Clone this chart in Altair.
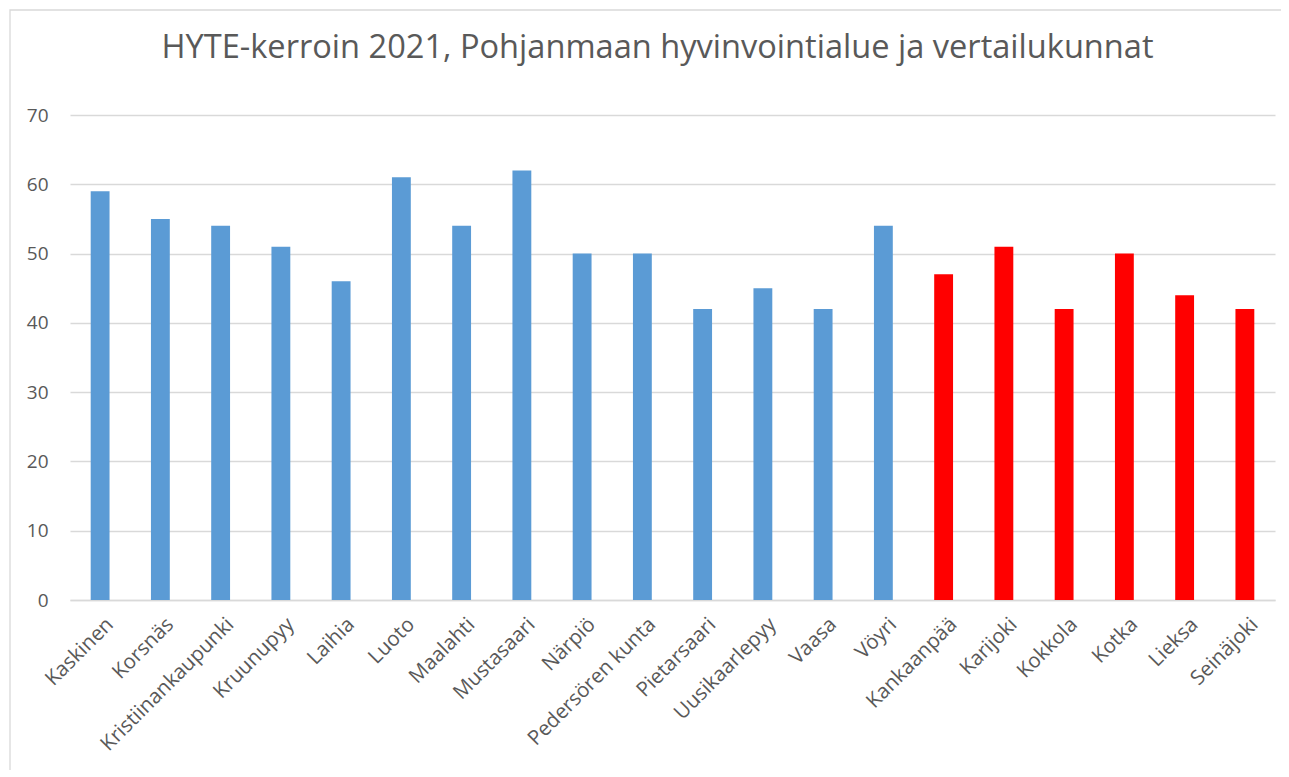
import altair as alt
import pandas as pd

municipalities = ["Kaskinen", "Korsnäs", "Kristiinankaupunki", "Kruunupyy", "Laihia", "Luoto",
                  "Maalahti", "Mustasaari", "Närpiö", "Pedersören kunta", "Pietarsaari",
                  "Uusikaarlepyy", "Vaasa", "Vöyri", "Kankaanpää", "Karijoki", "Kokkola",
                  "Kotka", "Lieksa", "Seinäjoki"]
values = [59, 55, 54, 51, 46, 61, 54, 62, 50, 50, 42, 45, 42, 54, 47, 51, 42, 50, 44, 42]
groups = ["Pohjanmaa"] * 14 + ["Vertailukunnat"] * 6
group_names = ["Pohjanmaa", "Vertailukunnat"]
group_colors = ["#5b9bd5", "#ff0000"]
y_ticks = [0, 10, 20, 30, 40, 50, 60, 70]

df = pd.DataFrame({"kunta": municipalities, "arvo": values, "ryhma": groups})

FONT = "Open Sans"
GREY = "#595959"
W, H = 1205, 485

bars = alt.Chart(df).mark_bar().encode(
    x=alt.X("kunta:N", sort=municipalities, title=None,
            scale=alt.Scale(paddingInner=0.687, paddingOuter=0.3435),
            axis=alt.Axis(labelAngle=-45, labelAlign="right", labelBaseline="top",
                          labelFontSize=20.5, labelFont=FONT, labelColor=GREY,
                          labelPadding=14, labelOffset=3, ticks=False,
                          domainColor="#d9d9d9", domainWidth=1.5, grid=False)),
    y=alt.Y("arvo:Q", title=None,
            scale=alt.Scale(domain=[0, 70], nice=False),
            axis=alt.Axis(values=y_ticks, labelFontSize=19, labelFont=FONT,
                          labelColor=GREY, labelPadding=22, ticks=False, domain=False,
                          gridColor="#d9d9d9", gridWidth=1.3)),
    color=alt.Color("ryhma:N", scale=alt.Scale(domain=group_names, range=group_colors),
                    legend=None),
)

frame = alt.Chart(pd.DataFrame({"a": [0]})).mark_rect(
    fill=None, stroke="#d9d9d9", strokeWidth=1.3, clip=False
).encode(
    x=alt.value(-60), x2=alt.value(1300),
    y=alt.value(-105), y2=alt.value(900),
)

chart = alt.layer(frame, bars).properties(
    width=W, height=H,
    padding={"left": 62, "top": 107, "right": 6, "bottom": 170},
    autosize=alt.AutoSizeParams(type="none"),
    title=alt.TitleParams(
        "HYTE-kerroin 2021, Pohjanmaan hyvinvointialue ja vertailukunnat",
        fontSize=32.6, font=FONT, color=GREY, fontWeight="normal",
        anchor="middle", baseline="bottom", dx=-15, offset=0, dy=88,
    ),
).configure_view(stroke=None)

chart.save("out.html", embed_options={"renderer": "svg", "actions": False})
